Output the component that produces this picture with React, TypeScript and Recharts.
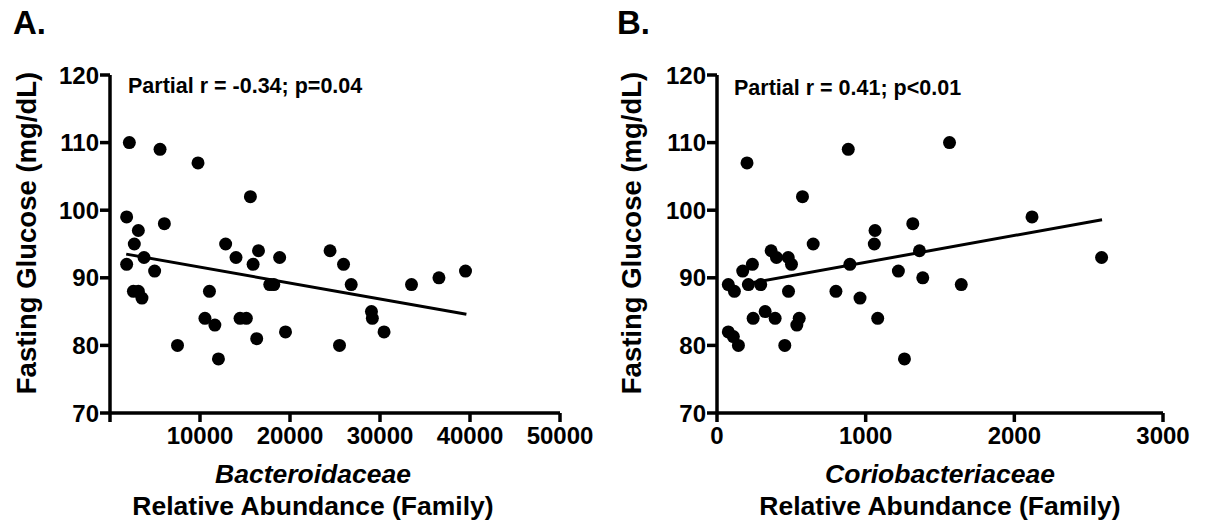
import React from "react";
import {
  ScatterChart,
  Scatter,
  XAxis,
  YAxis,
  ReferenceLine,
} from "recharts";

// --- Data ---
// Panel A: Bacteroidaceae vs fasting glucose
const bacteroidaceaeX = [
  2150, 5560, 9780, 15600, 1850, 6040, 3150, 2700, 12850, 3780,
  1850, 4960, 14000, 16500, 15900, 18850, 24450, 25950, 26800, 17750,
  18200, 33500, 36550, 39500, 2600, 3150, 3550, 11050, 10550, 11650,
  14450, 15150, 16300, 19500, 7500, 12050, 25500, 29050, 29150, 30450,
];
const bacteroidaceaeY = [
  110, 109, 107, 102, 99, 98, 97, 95, 95, 93,
  92, 91, 93, 94, 92, 93, 94, 92, 89, 89,
  89, 89, 90, 91, 88, 88, 87, 88, 84, 83,
  84, 84, 81, 82, 80, 78, 80, 85, 84, 82,
];
const fitA = [
  { x: 1800, y: 93.5 },
  { x: 39600, y: 84.6 },
];

// Panel B: Coriobacteriaceae vs fasting glucose
const coriobacteriaceaeX = [
  1564, 883, 202, 575, 2119, 1317, 1063, 1058, 647, 364,
  400, 479, 501, 238, 173, 894, 1362, 1220, 2587, 1384,
  1643, 76, 117, 211, 294, 481, 800, 962, 243, 324,
  391, 553, 537, 1081, 76, 110, 144, 456, 1261,
];
const coriobacteriaceaeY = [
  110, 109, 107, 102, 99, 98, 97, 95, 95, 94,
  93, 93, 92, 92, 91, 92, 94, 91, 93, 90,
  89, 89, 88, 89, 89, 88, 88, 87, 84, 85,
  84, 84, 83, 84, 82, 81.3, 80, 80, 78,
];
const fitB = [
  { x: 170, y: 89.0 },
  { x: 2590, y: 98.6 },
];

const yTicks = [70, 80, 90, 100, 110, 120];
const xTicksA = [0, 10000, 20000, 30000, 40000, 50000];
const xTicksB = [0, 1000, 2000, 3000];

const FONT = "'Liberation Sans', Arial, sans-serif";

const toPoints = (xs: number[], ys: number[]) =>
  xs.map((x, i) => ({ x, y: ys[i] }));

const Dot = (props: any) => {
  const { cx, cy } = props;
  return <circle cx={cx} cy={cy} r={6.5} fill="#000" />;
};

const tickStyle = { fill: "#000", fontSize: 24, fontWeight: "bold", fontFamily: FONT };
const lineStyle = { stroke: "#000", strokeWidth: 3.5 };

interface PanelProps {
  data: { x: number; y: number }[];
  fit: { x: number; y: number }[];
  xMax: number;
  xTicks: number[];
  hideZero: boolean;
  width: number;
  yAxisWidth: number;
  rightMargin: number;
  left: number;
}

const Panel = ({ data, fit, xMax, xTicks, hideZero, width, yAxisWidth, rightMargin, left }: PanelProps) => (
  <div style={{ position: "absolute", left, top: 0 }}>
    <ScatterChart
      width={width}
      height={525}
      margin={{ top: 75, right: rightMargin, bottom: 72, left: 0 }}
    >
      <XAxis
        type="number"
        dataKey="x"
        domain={[0, xMax]}
        ticks={xTicks}
        interval={0}
        height={40}
        tick={tickStyle}
        tickFormatter={(v: number) => (hideZero && v === 0 ? "" : String(v))}
        axisLine={lineStyle}
        tickLine={lineStyle}
        tickSize={9}
        tickMargin={5}
      />
      <YAxis
        type="number"
        dataKey="y"
        domain={[70, 120]}
        ticks={yTicks}
        interval={0}
        width={yAxisWidth}
        tick={tickStyle}
        axisLine={lineStyle}
        tickLine={lineStyle}
        tickSize={10}
        tickMargin={1}
      />
      <ReferenceLine
        segment={fit}
        stroke="#000"
        strokeWidth={3}
        ifOverflow="visible"
      />
      <Scatter data={data} fill="#000" shape={Dot} isAnimationActive={false} />
    </ScatterChart>
  </div>
);

export default function App() {
  return (
    <div style={{ position: "absolute", left: 0, top: 0, width: 1210, height: 525, background: "#fff" }}>
      <Panel
        data={toPoints(bacteroidaceaeX, bacteroidaceaeY)}
        fit={fitA}
        xMax={50000}
        xTicks={xTicksA}
        hideZero={true}
        width={600}
        yAxisWidth={110}
        rightMargin={40}
        left={0}
      />
      <Panel
        data={toPoints(coriobacteriaceaeX, coriobacteriaceaeY)}
        fit={fitB}
        xMax={3000}
        xTicks={xTicksB}
        hideZero={false}
        width={605}
        yAxisWidth={112}
        rightMargin={47}
        left={605}
      />
      {/* titles and annotations */}
      <svg
        width={1210}
        height={525}
        style={{ position: "absolute", left: 0, top: 0, pointerEvents: "none" }}
        fontFamily={FONT}
        fontWeight="bold"
        fill="#000"
      >
        <text x={13} y={34} fontSize={33}>A.</text>
        <text x={617} y={34} fontSize={33}>B.</text>

        <text x={128} y={93} fontSize={21.5}>Partial r = -0.34; p=0.04</text>
        <text x={734} y={95} fontSize={21.5}>Partial r = 0.41; p&lt;0.01</text>

        <text x={36} y={233} fontSize={27.5} textAnchor="middle" transform="rotate(-90 36 233)">
          Fasting Glucose (mg/dL)
        </text>
        <text x={641} y={233} fontSize={27.5} textAnchor="middle" transform="rotate(-90 641 233)">
          Fasting Glucose (mg/dL)
        </text>

        <text x={313} y={483} fontSize={26.5} textAnchor="middle" fontStyle="italic">Bacteroidaceae</text>
        <text x={313} y={515} fontSize={26.5} textAnchor="middle">Relative Abundance (Family)</text>
        <text x={940} y={483} fontSize={26.5} textAnchor="middle" fontStyle="italic">Coriobacteriaceae</text>
        <text x={940} y={515} fontSize={26.5} textAnchor="middle">Relative Abundance (Family)</text>
      </svg>
    </div>
  );
}
